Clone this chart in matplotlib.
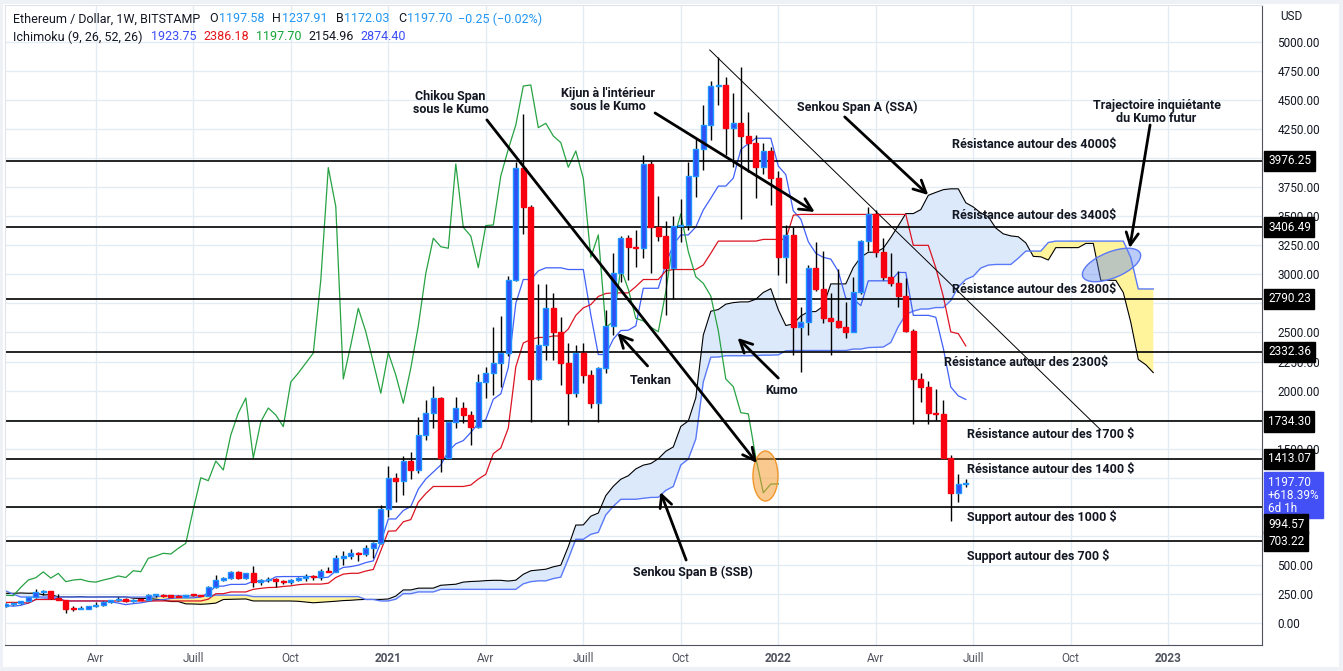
import numpy as np
import pandas as pd
import matplotlib
matplotlib.use("Agg")
import matplotlib.pyplot as plt
import matplotlib.dates as mdates
import matplotlib.transforms as mtransforms
from matplotlib.patches import Ellipse, Rectangle

plt.rcParams['font.family'] = ['Roboto', 'DejaVu Sans']

# weekly ETH/USD bars (Bitstamp), first bar = week of 2020-01-06
week_open = [
    135, 144, 167, 170, 189, 223, 265, 274, 218, 200, 123, 121, 125, 143, 158, 185, 196, 211, 187, 200,
    198, 244, 245, 233, 228, 225, 241, 239, 236, 307, 370, 390, 440, 387, 427, 356, 370, 376, 358, 352,
    370, 385, 405, 392, 450, 442, 557, 577, 600, 594, 643, 686,
    978, 1250, 1225, 1394, 1317, 1618, 1807, 1936, 1420, 1732, 1850, 1790, 1690, 2074, 2151, 2237, 2323, 2952,
    3919, 3583, 2100, 2392, 2708, 2507, 2240, 1977, 2326, 2134, 1891, 2194, 2556, 3009, 3311, 3238, 3225, 3950,
    3405, 3330, 3058, 3420, 3425, 3847, 4077, 4286, 4621, 4630, 4263, 4300, 4191, 4134, 3922, 4062,
    3827, 3147, 3340, 2545, 2593, 3053, 2872, 2622, 2600, 2545, 2507, 2851, 3290, 3520, 3196, 2980,
    2923, 2814, 2516, 2100, 2034, 1810, 1800, 1423, 1121, 1197.58]
week_high = [
    148, 175, 173, 190, 228, 290, 288, 278, 253, 202, 150, 145, 150, 177, 190, 200, 227, 215, 210, 215,
    246, 253, 248, 240, 245, 245, 250, 245, 320, 415, 400, 445, 445, 430, 490, 378, 392, 385, 372, 375,
    395, 420, 415, 465, 480, 585, 622, 636, 608, 675, 700, 1015,
    1351, 1291, 1437, 1470, 1770, 1919, 2040, 1945, 1740, 1947, 1905, 1825, 2143, 2200, 2550, 2642, 2986, 3970,
    4380, 3600, 2917, 2917, 2843, 2636, 2410, 2392, 2410, 2177, 2200, 2694, 3182, 3330, 3335, 3382, 4028, 3975,
    3675, 3460, 3500, 3650, 3970, 4165, 4458, 4660, 4869, 4700, 4561, 4788, 4400, 4200, 4130, 4100,
    3890, 3425, 3410, 2722, 3080, 3281, 3201, 2840, 3044, 2765, 2980, 3300, 3583, 3550, 3310, 3182,
    3030, 2968, 2530, 2150, 2083, 2011, 1919, 1450, 1282, 1237.91]
week_low = [
    134, 142, 155, 163, 186, 218, 238, 210, 196, 90, 107, 121, 124, 140, 150, 170, 190, 180, 180, 195,
    198, 225, 220, 225, 220, 222, 235, 230, 235, 305, 365, 375, 380, 375, 313, 330, 355, 310, 335, 335,
    360, 365, 370, 370, 440, 440, 499, 555, 535, 580, 560, 680,
    915, 1044, 1100, 1240, 1291, 1575, 1678, 1302, 1410, 1678, 1720, 1532, 1680, 1940, 1962, 2034, 2300, 2940,
    3348, 1733, 2090, 2263, 2263, 2048, 1704, 1947, 2065, 1850, 1733, 2150, 2480, 2937, 2952, 3064, 3141, 3015,
    3290, 2651, 2788, 3280, 3380, 3669, 3898, 4157, 4458, 4028, 3927, 3474, 3884, 3655, 3860, 3597,
    2995, 2929, 2306, 2163, 2478, 2860, 2579, 2306, 2540, 2450, 2500, 2830, 3200, 3150, 2950, 2900,
    2722, 2500, 1712, 1905, 1712, 1747, 1420, 880, 1044, 1172.03]
week_close = [
    144, 167, 170, 189, 223, 265, 274, 218, 200, 123, 121, 125, 143, 158, 185, 196, 211, 187, 200, 198,
    244, 245, 233, 228, 225, 241, 239, 236, 307, 370, 390, 440, 387, 427, 356, 370, 376, 358, 352, 370,
    385, 405, 392, 450, 442, 557, 577, 600, 594, 643, 686, 978,
    1250, 1225, 1394, 1317, 1618, 1807, 1936, 1420, 1732, 1850, 1790, 1690, 2074, 2151, 2237, 2323, 2952, 3919,
    3583, 2100, 2392, 2708, 2507, 2240, 1977, 2326, 2134, 1891, 2194, 2556, 3009, 3311, 3238, 3225, 3950, 3405,
    3330, 3058, 3420, 3425, 3847, 4077, 4286, 4621, 4630, 4263, 4300, 4191, 4134, 3922, 4062, 3827,
    3147, 3340, 2545, 2593, 3053, 2872, 2622, 2600, 2545, 2507, 2851, 3290, 3520, 3196, 2980, 2923,
    2814, 2516, 2100, 2034, 1810, 1800, 1423, 1121, 1196, 1197.70]

# earlier weeks (from 2018-06-18), only used to seed the Ichimoku windows
pre_high = [
    545, 470, 495, 490, 505, 485, 470, 415, 330, 300, 300, 300, 225, 250, 240, 235, 230, 215, 210, 215,
    225, 215, 180, 125, 120, 95, 145, 155, 160,
    160, 130, 125, 115, 125, 125, 165, 140, 140, 145, 145, 145, 185, 185, 180, 180, 175, 200, 280, 270,
    290, 255, 275, 320, 365, 310, 315, 240, 230, 235, 240, 215, 205, 190, 185, 200, 225, 210, 185, 200,
    190, 195, 195, 195, 190, 185, 160, 155, 150, 145, 135, 145]
pre_low = [
    440, 410, 445, 425, 440, 450, 400, 310, 250, 265, 275, 215, 165, 190, 210, 210, 185, 195, 195, 195,
    200, 160, 100, 100, 85, 82, 85, 115, 130,
    115, 115, 110, 103, 102, 115, 120, 125, 125, 130, 130, 130, 140, 155, 160, 150, 155, 160, 180, 230,
    240, 225, 240, 265, 280, 265, 210, 190, 200, 205, 205, 175, 180, 165, 165, 175, 190, 155, 160, 165,
    170, 155, 175, 180, 180, 140, 140, 140, 130, 115, 122, 127]

levels = [3976.25, 3406.49, 2790.23, 2332.36, 1734.30, 1413.07, 994.57, 703.22]
level_texts = [
    ("Résistance autour des 4000$", "2022-06-14", 4114),
    ("Résistance autour des 3400$", "2022-06-14", 3511),
    ("Résistance autour des 2800$", "2022-06-14", 2866),
    ("Résistance autour des 2300$", "2022-06-07", 2246),
    ("Résistance autour des 1700 $", "2022-06-28", 1618),
    ("Résistance autour des 1400 $", "2022-06-28", 1317),
    ("Support autour des 1000 $", "2022-06-28", 912),
    ("Support autour des 700 $", "2022-06-28", 577),
]

# ---- Ichimoku (9, 26, 52, 26) ------------------------------------------
first_week = pd.Timestamp("2020-01-06")
dates = pd.date_range(first_week, periods=len(week_close), freq="7D")
all_dates = pd.date_range(first_week - pd.Timedelta(weeks=len(pre_high)),
                          periods=len(pre_high) + len(week_close), freq="7D")
hi = pd.Series(pre_high + week_high, index=all_dates, dtype=float)
lo = pd.Series(pre_low + week_low, index=all_dates, dtype=float)


def midline(n):
    return (hi.rolling(n, min_periods=1).max() + lo.rolling(n, min_periods=1).min()) / 2


tenkan = midline(9)
kijun = midline(26)
ssa = (tenkan + kijun) / 2
ssb = midline(52)
shift = pd.Timedelta(weeks=25)
cloud_x = all_dates + shift

# ---- figure ------------------------------------------------------------
W, H = 1343, 671
fig = plt.figure(figsize=(W / 100, H / 100), dpi=100)
fig.patch.set_facecolor("#eef1f6")
fig.patches.append(Rectangle((3 / W, 4 / H), 1336 / W, 663 / H, transform=fig.transFigure,
                             facecolor="white", edgecolor="none", zorder=-10))
ax = fig.add_axes([5 / W, 26 / H, 1257 / W, 640 / H])
ax.set_facecolor("white")

x0 = pd.Timestamp("2022-01-03")
px_day = 7.5 / 7
ax.set_xlim(x0 - pd.Timedelta(days=773.3 / px_day), x0 + pd.Timedelta(days=483.7 / px_day))
ax.set_ylim(-189, 5318)

# grid
yt = np.arange(0, 5001, 250)
xt = pd.to_datetime(["2020-04-06", "2020-07-06", "2020-10-05", "2021-01-04", "2021-04-05", "2021-07-05",
                     "2021-10-04", "2022-01-03", "2022-04-04", "2022-07-04", "2022-10-03", "2023-01-02"])
xl = ["Avr", "Juill", "Oct", "2021", "Avr", "Juill", "Oct", "2022", "Avr", "Juill", "Oct", "2023"]
ax.set_yticks(yt)
# these tick values sit fully under the price tags
hidden = (4000, 2750, 1750, 1000, 750)
ax.set_yticklabels(["" if v in hidden else "%.2f" % v for v in yt])
ax.set_xticks(xt)
ax.set_xticklabels(xl)
for lab in ax.get_xticklabels():
    if lab.get_text() in ("2021", "2022", "2023"):
        lab.set_fontweight("bold")
ax.grid(True, color="#e2ecf5", lw=1)
ax.set_axisbelow(True)
ax.yaxis.tick_right()
ax.tick_params(axis="y", length=0, pad=11, labelsize=8.5, labelcolor="#131722")
ax.tick_params(axis="x", length=0, pad=5, labelsize=8.5, labelcolor="#50535e")
for lab in ax.get_yticklabels():
    lab.set_horizontalalignment("left")
ax.spines["bottom"].set_color("#50535e")
ax.spines["right"].set_color("#50535e")
ax.spines["top"].set_color("#e0e3eb")
ax.spines["left"].set_color("#e0e3eb")

# kumo
ax.fill_between(cloud_x, ssa, ssb, where=ssa >= ssb, interpolate=True, color="#dce9fb", lw=0, zorder=1)
ax.fill_between(cloud_x, ssa, ssb, where=ssa < ssb, interpolate=True, color="#fff39c", lw=0, zorder=1)
ax.plot(cloud_x, ssa, color="black", lw=0.8, zorder=2)
ax.plot(cloud_x, ssb, color="#5a79f7", lw=1.0, zorder=2)

# tenkan / kijun / chikou
ax.plot(all_dates, tenkan, color="#4060f8", lw=0.9, zorder=2)
ax.plot(all_dates, kijun, color="#dc1422", lw=0.9, zorder=2)
ax.plot(dates - shift, week_close, color="#27a243", lw=0.9, zorder=2)

# horizontal levels and trend line
for lv in levels:
    ax.axhline(lv, color="black", lw=1.2, zorder=2.2)
ax.plot(pd.to_datetime(["2021-10-31", "2022-10-31"]), [4931, 1661], color="black", lw=0.7, zorder=2.2)

# candles
o = np.array(week_open, dtype=float)
c = np.array(week_close, dtype=float)
up = c >= o
ax.vlines(dates, week_low, week_high, color="black", lw=1, zorder=3)
body_h = np.maximum(np.abs(c - o), 9)
ax.bar(dates[up], body_h[up], bottom=np.minimum(o, c)[up], width=4.8,
       color="#2f50f5", edgecolor="#1e96ff", lw=1, zorder=4)
ax.bar(dates[~up], body_h[~up], bottom=np.minimum(o, c)[~up], width=4.8,
       color="#f7000f", edgecolor="#f7000f", lw=1, zorder=4)

# ellipses (sized in pixels)
def pix_ellipse(date, price, w, h, angle, fc, ec):
    tr = mtransforms.Affine2D() + mtransforms.ScaledTranslation(
        mdates.date2num(pd.Timestamp(date)), price, ax.transData)
    ax.add_patch(Ellipse((0, 0), w, h, angle=angle, transform=tr, facecolor=fc, edgecolor=ec, lw=1, zorder=5))


pix_ellipse("2021-12-22", 1265, 25, 50, 0, (0.96, 0.62, 0.2, 0.55), "#f0962a")
pix_ellipse("2022-11-10", 3081, 62, 26, 22, (0.35, 0.5, 0.95, 0.4), "#5a79f7")

# annotations
bold = dict(fontsize=9, fontweight="bold", color="#131722", zorder=6)
notes = [
    ("Chikou Span\nsous le Kumo", "2021-03-03", 4475, "2021-04-06", 4329, "2021-12-14", 1377),
    ("Kijun à l'intérieur\nsous le Kumo", "2021-07-28", 4501, "2021-09-10", 4389, "2022-02-06", 3537),
    ("Senkou Span A (SSA)", "2022-03-18", 4441, "2022-03-06", 4355, "2022-05-23", 3683),
    ("Trajectoire inquiétante\ndu Kumo futur", "2022-12-22", 4398, "2022-12-16", 4286, "2022-11-27", 3227),
    ("Tenkan", "2021-09-06", 2091, "2021-09-03", 2212, "2021-08-06", 2496),
    ("Kumo", "2022-01-06", 1997, "2022-01-03", 2108, "2021-11-26", 2453),
    ("Senkou Span B (SSB)", "2021-10-15", 439, "2021-10-09", 542, "2021-09-15", 1127),
]
for txt, tx, ty, ax0, ay0, ax1, ay1 in notes:
    ax.text(pd.Timestamp(tx), ty, txt, ha="center", va="center", linespacing=1.0, **bold)
    ax.annotate("", xy=(pd.Timestamp(ax1), ay1), xytext=(pd.Timestamp(ax0), ay0),
                arrowprops=dict(arrowstyle="->", lw=2, color="black", shrinkA=0, shrinkB=0,
                                mutation_scale=22), zorder=6)
for txt, tx, ty in level_texts:
    ax.text(pd.Timestamp(tx), ty, txt, ha="left", va="center", **bold)

# price tags on the right scale (the 994.57 tag is pushed below the live-price tag)
ytr = mtransforms.blended_transform_factory(ax.transAxes, ax.transData)
tag_pos = {994.57: 852}
for lv in levels:
    ax.text(1.0048, tag_pos.get(lv, lv), "%.2f" % lv, transform=ytr, ha="left", va="center", fontsize=8.5,
            color="white", bbox=dict(boxstyle="square,pad=0.3", facecolor="black", edgecolor="black"),
            clip_on=False, zorder=7)
ax.text(1.0048, 1101, "1197.70\n+618.39%\n6d 1h", transform=ytr, ha="left", va="center", fontsize=8.5,
        color="white", linespacing=1.0,
        bbox=dict(boxstyle="square,pad=0.3", facecolor="#4350f5", edgecolor="#4350f5"), clip_on=False, zorder=6.5)
fig.text(1280 / W, 1 - 17 / H, "USD", fontsize=8.5, color="#131722", va="center")

# header, laid out piece by piece
renderer = fig.canvas.get_renderer()


def header_line(y, pieces):
    x = 13
    for s, col, gap in pieces:
        t = fig.text(x / W, 1 - y / H, s, fontsize=9, color=col, va="center", ha="left")
        x = t.get_window_extent(renderer).x1 + gap


dark, val = "#131722", "#2196f3"
header_line(19, [("Ethereum / Dollar, 1W, BITSTAMP", dark, 9), ("O", dark, 1), ("1197.58", val, 8),
                 ("H", dark, 1), ("1237.91", val, 8), ("B", dark, 1), ("1172.03", val, 8),
                 ("C", dark, 1), ("1197.70", val, 6), ("\u22120.25 (\u22120.02%)", val, 0)])
header_line(37, [("Ichimoku (9, 26, 52, 26)", dark, 8), ("1923.75", "#3a4cf5", 7), ("2386.18", "#e4141b", 7),
                 ("1197.70", "#13a538", 7), ("2154.96", dark, 7), ("2874.40", "#3a4cf5", 0)])

fig.savefig("out.png", dpi=100, facecolor=fig.get_facecolor())
